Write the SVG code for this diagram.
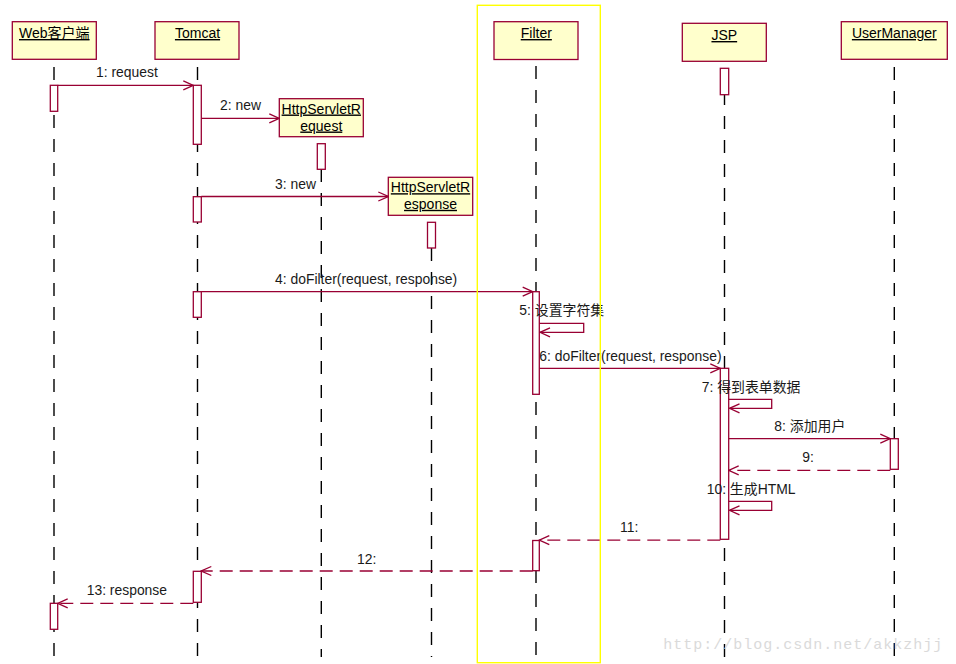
<svg xmlns="http://www.w3.org/2000/svg" width="956" height="664" viewBox="0 0 956 664">
<style>
.obj{fill:#ffffcc;stroke:#990033;stroke-width:1.3}
.hd{font-family:"Liberation Sans",Arial,"Noto Sans CJK SC",sans-serif;font-size:14px;fill:#000;text-anchor:middle;text-decoration:underline}
.life{stroke:#000;stroke-width:1.4;stroke-dasharray:13 11;fill:none}
.act{fill:#fff;stroke:#990033;stroke-width:1.3}
.msg{stroke:#990033;stroke-width:1.3;fill:none;marker-end:url(#arr)}
.ret{stroke:#990033;stroke-width:1.3;fill:none;stroke-dasharray:13 7;marker-end:url(#arr)}
.lbl{font-family:"Liberation Sans",Arial,"Noto Sans CJK SC",sans-serif;font-size:13.9px;fill:#1a1a1a}
</style>
<defs>
<marker id="arr" markerUnits="userSpaceOnUse" viewBox="-12 -6 13 12" refX="0" refY="0" markerWidth="13" markerHeight="12" orient="auto">
<path d="M-10,-4.5 L0,0 L-10,4.5" fill="none" stroke="#990033" stroke-width="1.3"/>
</marker>
</defs>
<rect width="956" height="664" fill="#fff"/>

<g id="lifelines">
<line class="life" x1="54" y1="67" x2="54" y2="657"/>
<line class="life" x1="197.5" y1="67" x2="197.5" y2="657"/>
<line class="life" x1="321.3" y1="169" x2="321.3" y2="657"/>
<line class="life" x1="431.5" y1="248" x2="431.5" y2="657"/>
<line class="life" x1="536" y1="66" x2="536" y2="657"/>
<line class="life" x1="724.5" y1="68" x2="724.5" y2="657"/>
<line class="life" x1="894.3" y1="67" x2="894.3" y2="657"/>
</g>

<g id="node-web">
<rect class="obj" x="12.3" y="21.7" width="84" height="37.6"/>
<text class="hd" x="54.3" y="38">Web客户端</text>
<rect class="act" x="50.3" y="85.3" width="7.4" height="26"/>
<rect class="act" x="50.3" y="603.3" width="7.4" height="26"/>
</g>

<g id="node-tomcat">
<rect class="obj" x="155" y="21.7" width="84" height="37.6"/>
<text class="hd" x="197.5" y="38">Tomcat</text>
<rect class="act" x="193.3" y="85.3" width="8" height="59"/>
<rect class="act" x="193.3" y="196.7" width="8" height="25.3"/>
<rect class="act" x="193.3" y="291.7" width="8" height="25.6"/>
<rect class="act" x="193.3" y="571.3" width="8" height="31"/>
</g>

<g id="node-request">
<rect class="obj" x="279.3" y="98.7" width="84" height="38"/>
<text class="hd" x="321.3" y="113.5">HttpServletR</text>
<text class="hd" x="321.3" y="130.5">equest</text>
<rect class="act" x="317.3" y="143.7" width="8" height="25.6"/>
</g>

<g id="node-response">
<rect class="obj" x="388.3" y="177.3" width="84.4" height="38"/>
<text class="hd" x="430.5" y="192.2">HttpServletR</text>
<text class="hd" x="430.5" y="208.8">esponse</text>
<rect class="act" x="427.5" y="222.3" width="8" height="25.7"/>
</g>

<g id="node-filter">
<rect class="obj" x="494" y="21.7" width="84" height="37.8"/>
<text class="hd" x="536.3" y="38">Filter</text>
<rect class="act" x="532.7" y="291.7" width="6.6" height="102.6"/>
<rect class="act" x="532.7" y="540.5" width="6.6" height="30.2"/>
</g>

<g id="node-jsp">
<rect class="obj" x="682.3" y="23.3" width="84" height="38"/>
<text class="hd" x="724.3" y="40">JSP</text>
<rect class="act" x="720.3" y="68.3" width="8.4" height="26.4"/>
<rect class="act" x="720.3" y="368.3" width="8.4" height="171"/>
</g>

<g id="node-usermanager">
<rect class="obj" x="841.3" y="21.7" width="106" height="37.6"/>
<text class="hd" x="894.3" y="38">UserManager</text>
<rect class="act" x="890.3" y="438.7" width="8" height="30.6"/>
</g>

<g id="connectors">
<line class="msg" x1="57.7" y1="85.3" x2="193.3" y2="85.3"/>
<text class="lbl" x="96" y="76.5">1: request</text>
<line class="msg" x1="201.3" y1="118.3" x2="279.3" y2="118.3"/>
<text class="lbl" x="220" y="109.5">2: new</text>
<line class="msg" x1="201.3" y1="196.5" x2="388.3" y2="196.5"/>
<text class="lbl" x="275" y="188.5">3: new</text>
<line class="msg" x1="201.3" y1="291.7" x2="532.7" y2="291.7"/>
<text class="lbl" x="275" y="284">4: doFilter(request, response)</text>
<polyline class="msg" points="539.3,323.3 583.7,323.3 583.7,332.3 540,332.3"/>
<text class="lbl" x="519.3" y="314.5">5: 设置字符集</text>
<line class="msg" x1="539.3" y1="368.3" x2="720.3" y2="368.3"/>
<text class="lbl" x="539.3" y="361">6: doFilter(request, response)</text>
<polyline class="msg" points="728.7,399.3 771.7,399.3 771.7,408.3 729.5,408.3"/>
<text class="lbl" x="701.7" y="391.7">7: 得到表单数据</text>
<line class="msg" x1="728.7" y1="438.7" x2="890.3" y2="438.7"/>
<text class="lbl" x="774.3" y="431">8: 添加用户</text>
<line class="ret" x1="890.3" y1="470.3" x2="728.7" y2="470.3"/>
<text class="lbl" x="802.3" y="462">9:</text>
<polyline class="msg" points="728.7,501.3 771.7,501.3 771.7,510.3 729.5,510.3"/>
<text class="lbl" x="706.7" y="493.5">10: 生成HTML</text>
<line class="ret" x1="720.3" y1="540.2" x2="539.3" y2="540.2"/>
<text class="lbl" x="620" y="532">11:</text>
<line class="ret" x1="532.7" y1="571" x2="201.3" y2="571"/>
<text class="lbl" x="357" y="563.5">12:</text>
<line class="ret" x1="193.3" y1="603.3" x2="57.7" y2="603.3"/>
<text class="lbl" x="86.7" y="595">13: response</text>
</g>

<rect id="filter-frame" x="477.3" y="5.3" width="123" height="657.4" fill="none" stroke="#ffff00" stroke-width="1.4"/>

<text x="663.3" y="648.5" font-family="Liberation Mono,DejaVu Sans Mono,monospace" font-size="15px" letter-spacing="1" fill="#dadada">http://blog.csdn.net/akkzhjj</text>
</svg>
